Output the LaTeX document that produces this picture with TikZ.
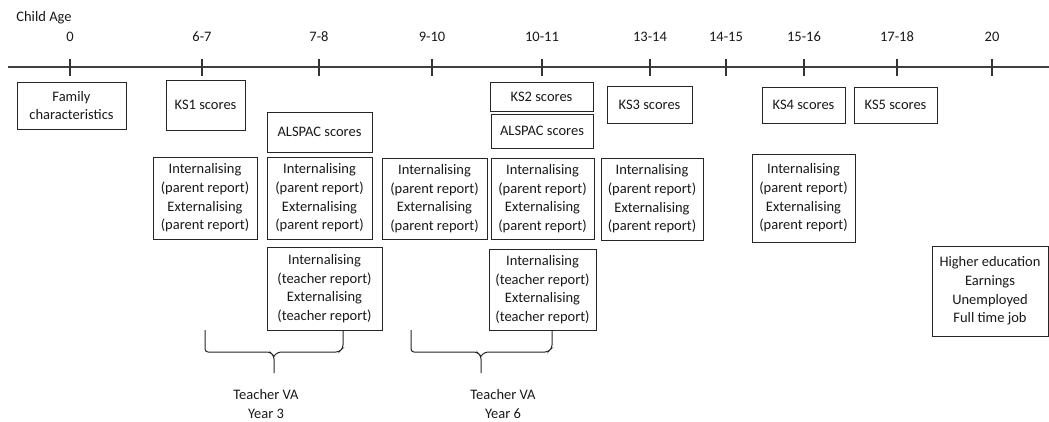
\documentclass[tikz,border=0pt]{standalone}
\usepackage{fontspec}
\setmainfont{Carlito}
\begin{document}
\begin{tikzpicture}[x=1pt,y=-1pt,
  every node/.style={font=\fontsize{14.5}{18.7}\selectfont, text=black!90},
  box/.style={draw=black!85, line width=1pt, align=center, inner sep=0pt},
  agelbl/.style={inner sep=0pt},
  axis/.style={draw=black!75, line width=1.3pt},
  tick/.style={draw=black!80, line width=1.1pt},
  brace/.style={draw=black!85, line width=1pt, rounded corners=3pt}]
\useasboundingbox (0,0) rectangle (1049,421);
% axis
\coordinate (axL) at (8,67);
\coordinate (axR) at (1049,67);
\draw[axis] (axL) -- (axR);
\node[agelbl] (childage) at (44,18) {Child Age};
\foreach \x/\l/\n in {70/0/a0, 202/6-7/a1, 319/7-8/a2, 432/9-10/a3, 542/10-11/a4, 650/13-14/a5, 726/14-15/a6, 804/15-16/a7, 897/17-18/a8, 992/20/a9}{
  \draw[tick] (\x,59) -- (\x,76);
  \node[agelbl] (\n) at (\x,37) {\l};
}
% top boxes
\node[box, minimum width=109pt, minimum height=47pt] (fam) at (71.5,105.5) {Family\\characteristics};
\node[box, minimum width=79pt, minimum height=50pt] (ks1) at (205.5,105) {KS1 scores};
\node[box, minimum width=105pt, minimum height=40pt] (alspacA) at (319.5,132) {ALSPAC scores};
\node[box, minimum width=103pt, minimum height=29pt] (ks2) at (541.5,96.5) {KS2 scores};
\node[box, minimum width=102pt, minimum height=34pt] (alspacB) at (542,131) {ALSPAC scores};
\node[box, minimum width=85pt, minimum height=37pt] (ks3) at (649.5,104.5) {KS3 scores};
\node[box, minimum width=83pt, minimum height=36pt] (ks4) at (803.5,105) {KS4 scores};
\node[box, minimum width=83pt, minimum height=36pt] (ks5) at (895.5,105) {KS5 scores};
% parent report boxes
\node[box, minimum width=104pt, minimum height=82pt] (p1) at (205,198) {Internalising\\(parent report)\\Externalising\\(parent report)};
\node[box, minimum width=105pt, minimum height=82pt] (p2) at (319.5,198) {Internalising\\(parent report)\\Externalising\\(parent report)};
\node[box, minimum width=105pt, minimum height=81pt] (p3) at (434.5,198.5) {Internalising\\(parent report)\\Externalising\\(parent report)};
\node[box, minimum width=103pt, minimum height=81pt] (p4) at (542.5,198.5) {Internalising\\(parent report)\\Externalising\\(parent report)};
\node[box, minimum width=102pt, minimum height=82pt] (p5) at (652,199) {Internalising\\(parent report)\\Externalising\\(parent report)};
\node[box, minimum width=103pt, minimum height=88pt] (p6) at (803.5,198) {Internalising\\(parent report)\\Externalising\\(parent report)};
% teacher report boxes
\node[box, minimum width=115pt, minimum height=83pt] (t1) at (324.5,288.5) {Internalising\\(teacher report)\\Externalising\\(teacher report)};
\node[box, minimum width=107pt, minimum height=81pt] (t2) at (542.5,289.5) {Internalising\\(teacher report)\\Externalising\\(teacher report)};
% outcomes
\node[box, minimum width=116pt, minimum height=90pt] (out) at (990,291) {Higher education\\Earnings\\Unemployed\\Full time job};
% braces
\coordinate (b1l) at (205,330);
\coordinate (b1m) at (274,373);
\coordinate (b2l) at (411,330);
\coordinate (b2m) at (481,373);
\draw[brace] (b1l) -- (205,352) -- (270,352) -- (274,356) -- (b1m);
\draw[brace] (274,356) -- (278,352) -- (339,352) -- (343,348) -- (t1.south -| 343,0);
\draw[brace] (b2l) -- (411,352) -- (477,352) -- (481,356) -- (b2m);
\draw[brace] (481,356) -- (485,352) -- (548,352) -- (552,348) -- (t2.south -| 552,0);
\node[agelbl, align=center] (va3) at (266,404) {Teacher VA\\Year 3};
\node[agelbl, align=center] (va6) at (503,404) {Teacher VA\\Year 6};
\end{tikzpicture}
\end{document}
